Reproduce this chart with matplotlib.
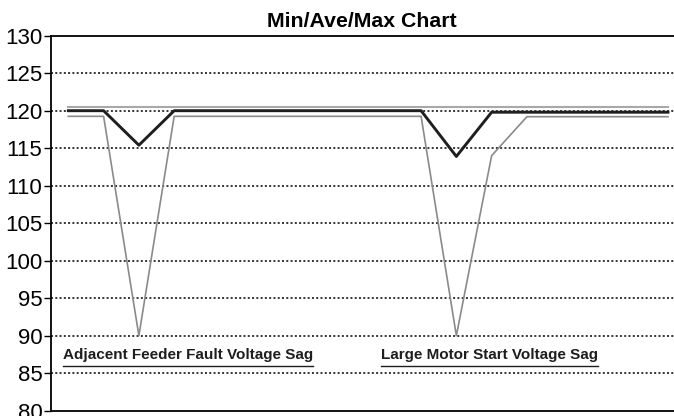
import matplotlib.pyplot as plt

# Voltage readings per sample interval
muestras = list(range(18))
v_max = [120.5] * 18
v_ave = [120, 120, 115.4, 120, 120, 120, 120, 120, 120, 120, 120,
         113.9, 119.8, 119.8, 119.8, 119.8, 119.8, 119.8]
v_min = [119.25, 119.25, 90, 119.25, 119.25, 119.25, 119.25, 119.25, 119.25,
         119.25, 119.25, 90, 114, 119.2, 119.2, 119.2, 119.2, 119.2]

niveles = [80, 85, 90, 95, 100, 105, 110, 115, 120, 125, 130]
eventos = ['Adjacent Feeder Fault Voltage Sag', 'Large Motor Start Voltage Sag']
pos_eventos = [-0.15, 8.87]
y_eventos = 86.85

plt.rcParams['font.family'] = ['Liberation Sans', 'DejaVu Sans']

fig = plt.figure(figsize=(6.74, 4.16), dpi=100)
ax = fig.add_axes([50.7 / 674, 1 - 410.7 / 416, (674 - 50.7) / 674, 375 / 416])

for y in niveles[1:-1]:
    ax.axhline(y, color='black', lw=1.1, linestyle=(0, (1.3, 1.5)), zorder=1)

ax.plot(muestras, v_max, color='#a8a8a8', lw=1.5, zorder=2)
ax.plot(muestras, v_min, color='#8a8a8a', lw=1.2, zorder=3)
ax.plot(muestras, v_ave, color='#1e1e1e', lw=2.1, zorder=4)

ax.set_xlim(-0.5, 17.17)
ax.set_ylim(80, 130)
ax.set_yticks(niveles)
ax.set_xticks([])
ax.tick_params(axis='y', direction='out', length=5, width=1, labelsize=16, pad=1)

for lado in ['left', 'top', 'bottom']:
    ax.spines[lado].set_linewidth(1.3)
ax.spines['right'].set_visible(False)

ax.set_title('Min/Ave/Max Chart', fontsize=15.3, fontweight='bold', pad=6)

# Event labels with an underline drawn under each text
fig.canvas.draw()
renderer = fig.canvas.get_renderer()
for texto, x0 in zip(eventos, pos_eventos):
    t = ax.text(x0, y_eventos, texto, fontsize=11, fontweight='bold',
                ha='left', va='baseline', color='#1e1e1e')
    bb = t.get_window_extent(renderer).transformed(ax.transData.inverted())
    ax.plot([bb.x0, bb.x1], [86.0, 86.0], color='#1e1e1e', lw=1.0, clip_on=False)

fig.savefig('out.png', dpi=100)
